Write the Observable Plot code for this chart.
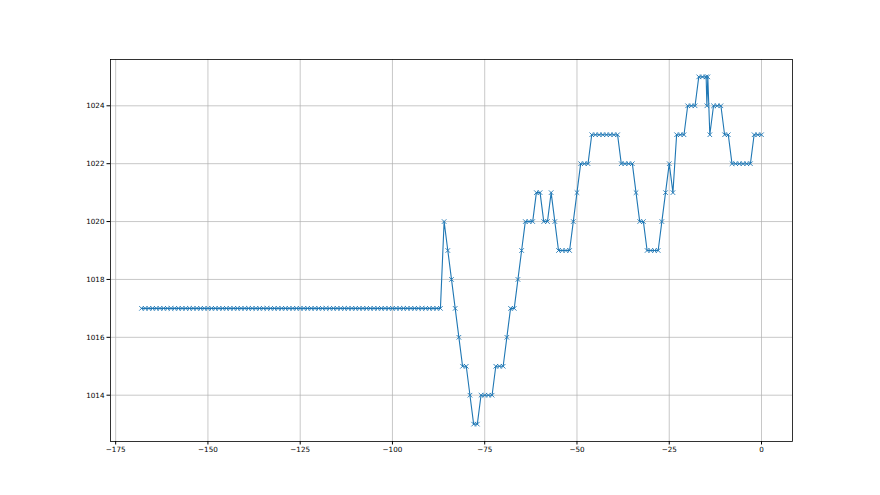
<!DOCTYPE html>
<html>
<head>
<meta charset="utf-8">
<script src="https://cdn.jsdelivr.net/npm/d3@7"></script>
<script src="https://cdn.jsdelivr.net/npm/@observablehq/plot@0.6"></script>
<style>
  html, body { margin: 0; padding: 0; background: #fff; overflow: hidden; }
  #chart svg { display: block; }
</style>
</head>
<body>
<div id="chart"></div>
<script>
// hours relative to now
const hours = [
  -168,-167,-166,-165,-164,-163,-162,-161,-160,-159,
  -158,-157,-156,-155,-154,-153,-152,-151,-150,-149,
  -148,-147,-146,-145,-144,-143,-142,-141,-140,-139,
  -138,-137,-136,-135,-134,-133,-132,-131,-130,-129,
  -128,-127,-126,-125,-124,-123,-122,-121,-120,-119,
  -118,-117,-116,-115,-114,-113,-112,-111,-110,-109,
  -108,-107,-106,-105,-104,-103,-102,-101,-100,-99,
  -98,-97,-96,-95,-94,-93,-92,-91,-90,-89,
  -88,-87,
  -86,-85,-84,-83,-82,-81,-80,-79,-78,-77,
  -76,-75,-74,-73,-72,-71,-70,-69,-68,-67,
  -66,-65,-64,-63,-62,-61,-60,-59,-58,-57,
  -56,-55,-54,-53,-52,-51,-50,-49,-48,-47,
  -46,-45,-44,-43,-42,-41,-40,-39,-38,-37,
  -36,-35,-34,-33,-32,-31,-30,-29,-28,-27,
  -26,-25,-24,-23,-22,-21,-20,-19,-18,-17,
  -16,-15,-14.8,-14.55,-14,-13,-12,-11,-10,-9,
  -8,-7,-6,-5,-4,-3,-2,-1,0
];
// pressure readings (hPa)
const pressure = [
  1017,1017,1017,1017,1017,1017,1017,1017,1017,1017,
  1017,1017,1017,1017,1017,1017,1017,1017,1017,1017,
  1017,1017,1017,1017,1017,1017,1017,1017,1017,1017,
  1017,1017,1017,1017,1017,1017,1017,1017,1017,1017,
  1017,1017,1017,1017,1017,1017,1017,1017,1017,1017,
  1017,1017,1017,1017,1017,1017,1017,1017,1017,1017,
  1017,1017,1017,1017,1017,1017,1017,1017,1017,1017,
  1017,1017,1017,1017,1017,1017,1017,1017,1017,1017,
  1017,1017,
  1020,1019,1018,1017,1016,1015,1015,1014,1013,1013,
  1014,1014,1014,1014,1015,1015,1015,1016,1017,1017,
  1018,1019,1020,1020,1020,1021,1021,1020,1020,1021,
  1020,1019,1019,1019,1019,1020,1021,1022,1022,1022,
  1023,1023,1023,1023,1023,1023,1023,1023,1022,1022,
  1022,1022,1021,1020,1020,1019,1019,1019,1019,1020,
  1021,1022,1021,1023,1023,1023,1024,1024,1024,1025,
  1025,1025,1024,1025,1023,1024,1024,1024,1023,1023,
  1022,1022,1022,1022,1022,1022,1023,1023,1023
];
const xTicks = [-175, -150, -125, -100, -75, -50, -25, 0];
const yTicks = [1014, 1016, 1018, 1020, 1022, 1024];

const data = hours.map((h, i) => ({h, p: pressure[i]}));
const fmt = d3.format("d");

const chart = Plot.plot({
  width: 880,
  height: 495,
  marginLeft: 110,
  marginRight: 88,
  marginTop: 59,
  marginBottom: 54,
  style: {fontFamily: "DejaVu Sans", fontSize: "7.2px", background: "#fff", color: "#000"},
  x: {domain: [-176.4, 8.4]},
  y: {domain: [1012.4, 1025.6]},
  marks: [
    Plot.ruleX(xTicks, {stroke: "#b0b0b0", strokeWidth: 0.7}),
    Plot.ruleY(yTicks, {stroke: "#b0b0b0", strokeWidth: 0.7}),
    Plot.line(data, {x: "h", y: "p", stroke: "#1f77b4", strokeWidth: 1.1}),
    Plot.dot(data, {x: "h", y: "p", symbol: "times", r: 2.2, stroke: "#1f77b4", strokeWidth: 0.9}),
    Plot.frame({stroke: "#000", strokeWidth: 0.8}),
    Plot.axisX(xTicks, {tickSize: 3.5, tickPadding: 2, label: null, tickFormat: fmt}),
    Plot.axisY(yTicks, {tickSize: 3.5, tickPadding: 2.5, label: null, tickFormat: fmt})
  ]
});
document.getElementById("chart").appendChild(chart);
</script>
</body>
</html>
